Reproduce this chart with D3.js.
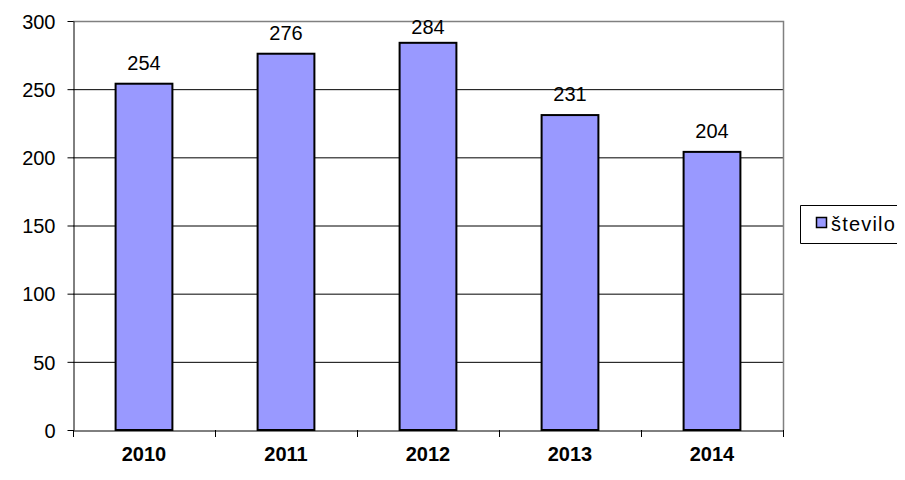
<!DOCTYPE html>
<html><head><meta charset="utf-8">
<script src="https://cdn.jsdelivr.net/npm/d3@7"></script>
<style>body{margin:0;background:#fff}svg{display:block}text{font-family:"Liberation Sans",Arial,sans-serif}</style>
</head><body>
<svg id="c" width="905" height="480"></svg>
<script>
const categories = ["2010","2011","2012","2013","2014"];
const values = [254,276,284,231,204];
const yTicks = [0,50,100,150,200,250,300];
const seriesName = "število";

const svg = d3.select("#c");
const L=73, R=783, T=21, B=430;
const x = d3.scaleBand().domain(categories).range([L,R]).paddingInner(0.6).paddingOuter(0.3);
const xb = d3.scaleBand().domain(categories).range([L,R]);
const y = d3.scaleLinear().domain([0,300]).range([B,T]);

// gridlines
svg.append("g").selectAll("line").data(yTicks.filter(d=>d>0&&d<300)).join("line")
  .attr("x1",L).attr("x2",R).attr("y1",d=>y(d)+0.5).attr("y2",d=>y(d)+0.5)
  .attr("stroke","#000").attr("stroke-width",1);
// plot border top/right gray
svg.append("path").attr("d",`M${L},${T+0.5}H${R+0.5}V${B}`).attr("fill","none").attr("stroke","#808080").attr("stroke-width",1.5);

// bars
svg.append("g").selectAll("rect").data(values).join("rect")
  .attr("x",(d,i)=>x(categories[i])).attr("width",x.bandwidth())
  .attr("y",d=>y(d)).attr("height",d=>B-y(d))
  .attr("fill","#9999FF").attr("stroke","#000").attr("stroke-width",2);

// value labels (kept inside the plot area)
svg.append("g").selectAll("text").data(values).join("text")
  .attr("x",(d,i)=>x(categories[i])+x.bandwidth()/2).attr("y",d=>Math.max(y(d)-14, T+13))
  .attr("text-anchor","middle").attr("font-size","20px").text(d=>d);

// y axis
const ya = svg.append("g").attr("transform",`translate(${L+0.5},0)`)
  .call(d3.axisLeft(y).tickValues(yTicks).tickSize(6).tickSizeOuter(0).tickPadding(12));
ya.select(".domain").attr("stroke","#000");
ya.selectAll(".tick line").attr("stroke","#000");
ya.selectAll(".tick text").attr("font-size","20px").attr("fill","#000").attr("dy","0.36em").attr("font-family","Liberation Sans, Arial, sans-serif");

// x axis
const xa = svg.append("g").attr("transform",`translate(0,${B+0.5})`)
  .call(d3.axisBottom(xb).tickSize(0).tickSizeOuter(0).tickPadding(16));
xa.select(".domain").attr("stroke","#000");
xa.selectAll(".tick text").attr("font-size","20px").attr("font-weight","bold").attr("fill","#000").attr("font-family","Liberation Sans, Arial, sans-serif");
// boundary ticks
const bounds = categories.map(c=>xb(c)).concat([R]);
svg.append("g").selectAll("line").data(bounds).join("line")
  .attr("x1",d=>d+0.5).attr("x2",d=>d+0.5).attr("y1",B).attr("y2",B+7)
  .attr("stroke","#000").attr("stroke-width",1);

// legend
const lg = svg.append("g");
lg.append("path").attr("d","M897,205.5H800.5V243.5H897").attr("fill","none").attr("stroke","#000").attr("stroke-width",1);
lg.append("rect").attr("x",816.5).attr("y",217.5).attr("width",10).attr("height",10)
  .attr("fill","#9999FF").attr("stroke","#000").attr("stroke-width",1.5);
lg.append("text").attr("x",831).attr("y",231).attr("font-size","20px").attr("letter-spacing","1.2px").text(seriesName);
</script>
</body></html>
